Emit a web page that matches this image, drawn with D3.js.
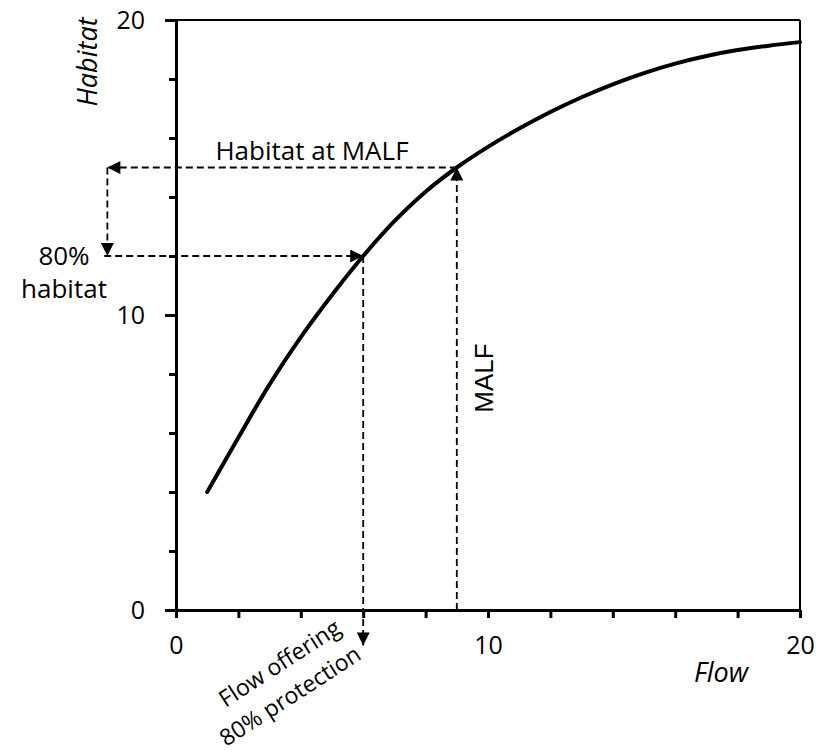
<!DOCTYPE html>
<html>
<head>
<meta charset="utf-8">
<script src="https://cdn.jsdelivr.net/npm/d3@7"></script>
<style>
  body { margin: 0; background: #fff; }
  text { font-family: "Open Sans", sans-serif; fill: #000; }
</style>
</head>
<body>
<svg id="chart" width="819" height="752"></svg>
<script>
// habitat vs flow curve
const flow    = [1, 2, 3, 4, 5, 6, 7, 8, 9, 10, 11, 12, 13, 14, 15, 16, 17, 18, 19, 20];
const habitat = [4.0, 5.85, 7.65, 9.25, 10.68, 12.0, 13.18, 14.18, 15.0, 15.7,
                 16.32, 16.88, 17.38, 17.82, 18.2, 18.52, 18.78, 18.98, 19.13, 19.25];

const xTicks = [0, 2, 4, 6, 8, 10, 12, 14, 16, 18, 20];
const yTicks = [0, 2, 4, 6, 8, 10, 12, 14, 16, 18, 20];
const labelled = [0, 10, 20];

// annotation values
const malf = 9, habitatAtMalf = 15;
const flow80 = 6, habitat80 = 12;

const svg = d3.select("#chart");

const x = d3.scaleLinear().domain([0, 20]).range([176, 800]);
const y = d3.scaleLinear().domain([0, 20]).range([610, 20]);

// arrow head
svg.append("defs").append("marker")
    .attr("id", "arrow")
    .attr("viewBox", "0 0 14 14")
    .attr("refX", 14)
    .attr("refY", 7)
    .attr("markerWidth", 14)
    .attr("markerHeight", 13)
    .attr("markerUnits", "userSpaceOnUse")
    .attr("orient", "auto")
  .append("path")
    .attr("d", "M0,0L14,7L0,14Z")
    .attr("fill", "#000");

// frame top / right
svg.append("line")
    .attr("x1", x(0)).attr("x2", x(20))
    .attr("y1", y(20)).attr("y2", y(20))
    .attr("stroke", "#000").attr("stroke-width", 2);
svg.append("line")
    .attr("x1", x(20)).attr("x2", x(20))
    .attr("y1", y(20)).attr("y2", y(0))
    .attr("stroke", "#000").attr("stroke-width", 2);

// y axis
const yAxis = svg.append("g")
    .attr("transform", "translate(" + x(0) + ",0)")
    .call(d3.axisLeft(y).tickValues(yTicks).tickSize(7).tickSizeOuter(0)
        .tickFormat(d => labelled.includes(d) ? d : ""));
yAxis.select(".domain").attr("stroke-width", 3);
yAxis.selectAll(".tick line").attr("stroke-width", 3)
    .attr("x2", d => labelled.includes(d) ? -11 : -7);
yAxis.selectAll(".tick text")
    .attr("x", -31)
    .style("font-size", "25px")
    .style("font-family", "'Open Sans', sans-serif");

// x axis
const xAxis = svg.append("g")
    .attr("transform", "translate(0," + y(0) + ")")
    .call(d3.axisBottom(x).tickValues(xTicks).tickSize(8).tickSizeOuter(0)
        .tickFormat(d => labelled.includes(d) ? d : ""));
xAxis.select(".domain").attr("stroke-width", 3);
xAxis.selectAll(".tick line").attr("stroke-width", 3);
xAxis.selectAll(".tick text")
    .attr("y", 26)
    .style("font-size", "25px")
    .style("font-family", "'Open Sans', sans-serif");

// dashed guides
const guides = [
    [[malf, habitatAtMalf], [-2.2, habitatAtMalf]],
    [[-2.2, habitatAtMalf], [-2.2, habitat80]],
    [[-2.3, habitat80], [flow80, habitat80]],
    [[flow80, habitat80], [flow80, -1.2]],
    [[malf, 0], [malf, habitatAtMalf]]
];
svg.selectAll(".guide")
    .data(guides)
    .enter().append("line")
    .attr("class", "guide")
    .attr("x1", d => x(d[0][0])).attr("y1", d => y(d[0][1]))
    .attr("x2", d => x(d[1][0])).attr("y2", d => y(d[1][1]))
    .attr("stroke", "#000")
    .attr("stroke-width", 1.8)
    .attr("stroke-dasharray", "7,4")
    .attr("marker-end", "url(#arrow)");

// curve
const line = d3.line()
    .x((d, i) => x(flow[i]))
    .y(d => y(d))
    .curve(d3.curveCatmullRom.alpha(0.5));
svg.append("path")
    .datum(habitat)
    .attr("d", line)
    .attr("fill", "none")
    .attr("stroke", "#000")
    .attr("stroke-width", 4)
    .attr("stroke-linecap", "round");

// labels
svg.append("text")
    .attr("x", 312).attr("y", 160)
    .attr("text-anchor", "middle")
    .style("font-size", "26px")
    .text("Habitat at MALF");

svg.append("text")
    .attr("x", 64).attr("y", 265)
    .attr("text-anchor", "middle")
    .style("font-size", "26px")
    .text("80%");
svg.append("text")
    .attr("x", 64).attr("y", 298)
    .attr("text-anchor", "middle")
    .style("font-size", "26px")
    .text("habitat");

svg.append("text")
    .attr("transform", "translate(493,378) rotate(-90)")
    .attr("text-anchor", "middle")
    .style("font-family", "'Liberation Sans', Arial, sans-serif")
    .style("font-size", "26px")
    .text("MALF");

svg.append("text")
    .attr("transform", "translate(97,62) rotate(-90)")
    .attr("text-anchor", "middle")
    .style("font-size", "27px")
    .style("font-style", "italic")
    .text("Habitat");

svg.append("text")
    .attr("x", 721).attr("y", 682)
    .attr("text-anchor", "middle")
    .style("font-size", "27px")
    .style("font-style", "italic")
    .text("Flow");

const rot = svg.append("g")
    .attr("transform", "translate(284,670) rotate(-33)");
rot.append("text")
    .attr("x", 0).attr("y", 0)
    .attr("text-anchor", "middle")
    .style("font-size", "23px")
    .text("Flow offering");
rot.append("text")
    .attr("x", -9).attr("y", 33)
    .attr("text-anchor", "middle")
    .style("font-size", "23px")
    .text("80% protection");
</script>
</body>
</html>
